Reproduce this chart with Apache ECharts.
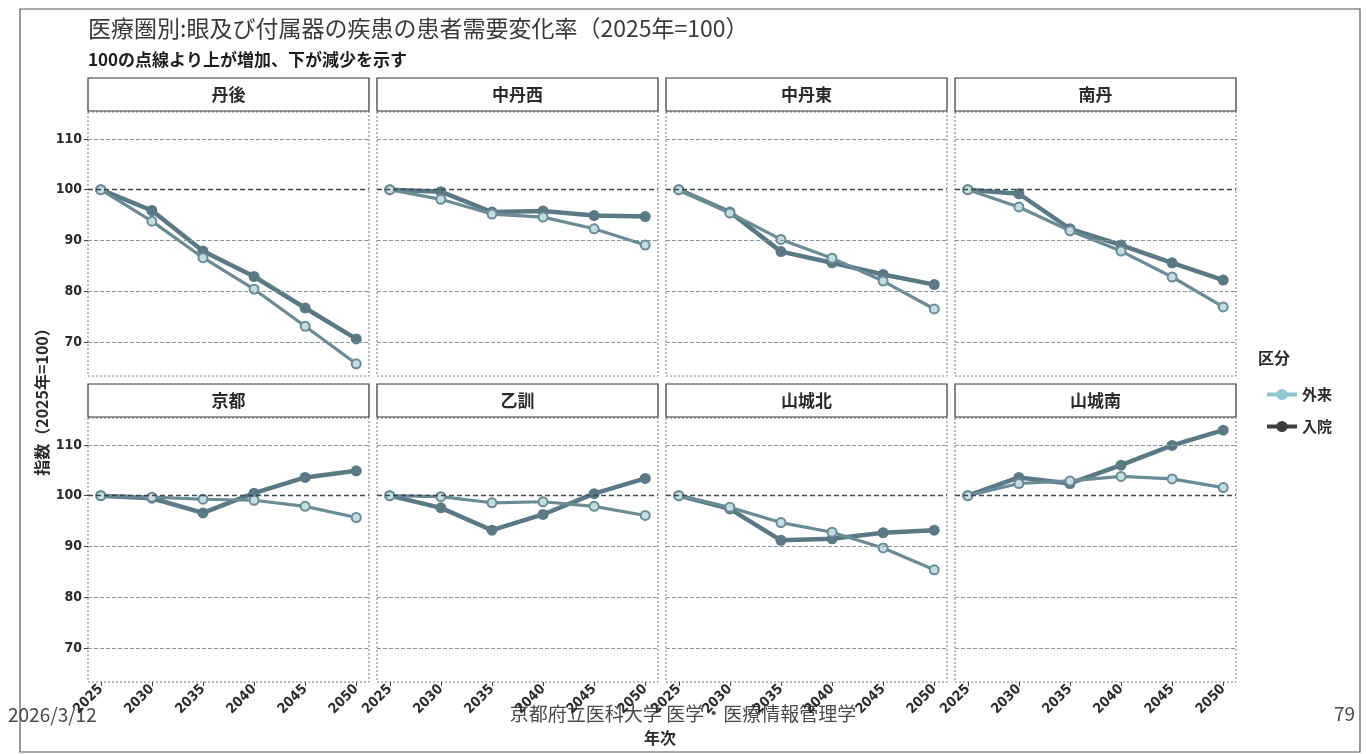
<!DOCTYPE html>
<html>
<head>
<meta charset="utf-8">
<script src="https://cdn.jsdelivr.net/npm/echarts@6/dist/echarts.min.js"></script>
<style>
  html, body { margin: 0; padding: 0; background: #ffffff; }
  #chart { width: 1366px; height: 754px; }
</style>
</head>
<body>
<div id="chart"></div>
<script>
// Years on the x axis
const years = [2025, 2030, 2035, 2040, 2045, 2050];
const yTicks = [70, 80, 90, 100, 110];
const regions = ['丹後', '中丹西', '中丹東', '南丹', '京都', '乙訓', '山城北', '山城南'];

// 外来 (outpatient) index, 2025 = 100
const outTango      = [100, 93.8, 86.6, 80.4, 73.1, 65.7];
const outChutanNishi = [100, 98.1, 95.2, 94.6, 92.3, 89.1];
const outChutanHigashi = [100, 95.4, 90.2, 86.5, 82.0, 76.5];
const outNantan     = [100, 96.6, 91.9, 87.9, 82.8, 76.9];
const outKyoto      = [100, 99.7, 99.3, 99.1, 97.9, 95.7];
const outOtokuni    = [100, 99.8, 98.6, 98.8, 97.9, 96.1];
const outYamashiroN = [100, 97.7, 94.7, 92.8, 89.7, 85.4];
const outYamashiroS = [100, 102.4, 102.9, 103.8, 103.3, 101.6];

// 入院 (inpatient) index, 2025 = 100
const inTango       = [100, 95.9, 87.9, 82.9, 76.7, 70.6];
const inChutanNishi = [100, 99.6, 95.6, 95.8, 94.9, 94.7];
const inChutanHigashi = [100, 95.6, 87.8, 85.6, 83.3, 81.3];
const inNantan      = [100, 99.2, 92.3, 89.1, 85.6, 82.2];
const inKyoto       = [100, 99.5, 96.6, 100.5, 103.6, 104.9];
const inOtokuni     = [100, 97.6, 93.2, 96.3, 100.4, 103.4];
const inYamashiroN  = [100, 97.4, 91.2, 91.5, 92.7, 93.2];
const inYamashiroS  = [100, 103.6, 102.4, 106.0, 109.9, 112.9];

const outpatient = [outTango, outChutanNishi, outChutanHigashi, outNantan,
                    outKyoto, outOtokuni, outYamashiroN, outYamashiroS];
const inpatient = [inTango, inChutanNishi, inChutanHigashi, inNantan,
                   inKyoto, inOtokuni, inYamashiroN, inYamashiroS];

const JP = '"Noto Sans CJK JP", "Noto Sans", sans-serif';
const NARROW = '"Liberation Sans Narrow", "DejaVu Sans Condensed", "Noto Sans CJK JP", sans-serif';

// Facet layout (4 columns x 2 rows)
const colLeft = [88, 377, 666, 955];
const panelW = 281;
const rowTop = [112, 418];
const panelH = 264;
const stripH = 33;

const grids = [], xAxes = [], yAxes = [], series = [], graphics = [];

const gridLineData = yTicks.filter(v => v !== 100).map(v => ({ yAxis: v }));

regions.forEach((name, i) => {
  const col = i % 4, row = Math.floor(i / 4);
  const left = colLeft[col], top = rowTop[row];
  grids.push({ left: left, top: top, width: panelW, height: panelH, containLabel: false });

  xAxes.push({
    type: 'value', gridIndex: i, min: 2023.75, max: 2051.25,
    axisLine: { show: false },
    axisTick: { show: row === 1, length: 4, customValues: years, lineStyle: { color: '#444' } },
    axisLabel: {
      show: row === 1, customValues: years, rotate: 45, margin: 5,
      fontSize: 14, fontWeight: 'bold', color: '#2b2b2b', fontFamily: NARROW,
      formatter: v => String(v)
    },
    splitLine: { show: false }
  });
  yAxes.push({
    type: 'value', gridIndex: i, min: 63.3, max: 115.3,
    axisLine: { show: false },
    axisTick: { show: col === 0, length: 4, customValues: yTicks, lineStyle: { color: '#444' } },
    axisLabel: {
      show: col === 0, customValues: yTicks, margin: 6,
      fontSize: 14, fontWeight: 'bold', color: '#2b2b2b', fontFamily: NARROW
    },
    splitLine: { show: false }
  });

  // horizontal reference lines (grid + the 100 baseline)
  series.push({
    type: 'line', xAxisIndex: i, yAxisIndex: i, data: [], silent: true, z: 1,
    markLine: {
      silent: true, symbol: 'none', label: { show: false },
      data: [
        ...gridLineData.map(d => ({ ...d, lineStyle: { color: '#8797a0', type: [4, 2], width: 1.2 } })),
        { yAxis: 100, lineStyle: { color: '#3a4a52', type: [5, 3], width: 1.4 } }
      ]
    }
  });

  series.push({
    name: '入院', type: 'line', xAxisIndex: i, yAxisIndex: i, z: 3,
    data: years.map((y, k) => [y, inpatient[i][k]]),
    symbol: 'circle', symbolSize: 11,
    lineStyle: { color: '#5b7985', width: 4.5 },
    itemStyle: { color: '#5b7985' },
    emphasis: { disabled: true }
  });
  series.push({
    name: '外来', type: 'line', xAxisIndex: i, yAxisIndex: i, z: 4,
    data: years.map((y, k) => [y, outpatient[i][k]]),
    symbol: 'circle', symbolSize: 9,
    lineStyle: { color: '#6b8b97', width: 3.2 },
    itemStyle: { color: '#c4dde1', borderColor: '#6b8b97', borderWidth: 2 },
    emphasis: { disabled: true }
  });

  // panel border
  graphics.push({
    type: 'rect', silent: true, z: 0,
    shape: { x: left, y: top, width: panelW, height: panelH },
    style: { fill: null, stroke: '#6c7c83', lineWidth: 1, lineDash: [2, 2] }
  });
  // facet strip
  graphics.push({
    type: 'rect', silent: true,
    shape: { x: left, y: top - stripH - 1, width: panelW, height: stripH },
    style: { fill: '#ffffff', stroke: '#333333', lineWidth: 1.2 }
  });
  graphics.push({
    type: 'text', silent: true,
    x: left + panelW / 2, y: top - 1 - stripH / 2,
    style: { text: name, fill: '#2b2b2b', font: 'bold 17px ' + JP, align: 'center', verticalAlign: 'middle' }
  });
});

// page frame
graphics.push({
  type: 'rect', silent: true,
  shape: { x: 20, y: 9, width: 1340, height: 743 },
  style: { fill: null, stroke: '#555555', lineWidth: 1.2 }
});
// titles and axis names
graphics.push({
  type: 'text', silent: true, x: 88, y: 28,
  style: { text: '医療圏別:眼及び付属器の疾患の患者需要変化率（2025年=100）', fill: '#3a3a3a',
           font: '23px ' + JP, verticalAlign: 'middle' }
});
graphics.push({
  type: 'text', silent: true, x: 88, y: 60,
  style: { text: '100の点線より上が増加、下が減少を示す', fill: '#1e1e1e',
           font: 'bold 17px ' + JP, verticalAlign: 'middle' }
});
graphics.push({
  type: 'text', silent: true, x: 42, y: 398, rotation: Math.PI / 2,
  style: { text: '指数（2025年=100）', fill: '#2b2b2b', font: 'bold 16px ' + JP,
           align: 'center', verticalAlign: 'middle' }
});
graphics.push({
  type: 'text', silent: true, x: 660, y: 738,
  style: { text: '年次', fill: '#2b2b2b', font: 'bold 16px ' + JP, align: 'center', verticalAlign: 'middle' }
});
graphics.push({
  type: 'text', silent: true, x: 1258, y: 358,
  style: { text: '区分', fill: '#2b2b2b', font: 'bold 16px ' + JP, verticalAlign: 'middle' }
});
// slide footer
graphics.push({
  type: 'text', silent: true, x: 8, y: 715,
  style: { text: '2026/3/12', fill: '#4a4a4a', font: '19px ' + JP, verticalAlign: 'middle' }
});
graphics.push({
  type: 'text', silent: true, x: 683, y: 714,
  style: { text: '京都府立医科大学 医学・医療情報管理学', fill: '#4a4a4a', font: '19px ' + JP,
           align: 'center', verticalAlign: 'middle' }
});
graphics.push({
  type: 'text', silent: true, x: 1355, y: 714,
  style: { text: '79', fill: '#4a4a4a', font: '19px ' + JP, align: 'right', verticalAlign: 'middle' }
});

const chart = echarts.init(document.getElementById('chart'), null, { renderer: 'canvas' });
chart.setOption({
  backgroundColor: '#ffffff',
  animation: false,
  grid: grids,
  xAxis: xAxes,
  yAxis: yAxes,
  legend: {
    orient: 'vertical', left: 1260, top: 382, itemGap: 17,
    itemWidth: 30, itemHeight: 14,
    textStyle: { fontSize: 15, fontWeight: 'bold', color: '#2b2b2b', fontFamily: JP },
    selectedMode: false,
    data: [
      { name: '外来', itemStyle: { color: '#8fc7cf', borderColor: '#8fc7cf', borderWidth: 0 },
        lineStyle: { color: '#8fc7cf', width: 4 } },
      { name: '入院', itemStyle: { color: '#3d3d3d', borderColor: '#3d3d3d', borderWidth: 0 },
        lineStyle: { color: '#3d3d3d', width: 4 } }
    ]
  },
  graphic: graphics,
  series: series
});
</script>
</body>
</html>
